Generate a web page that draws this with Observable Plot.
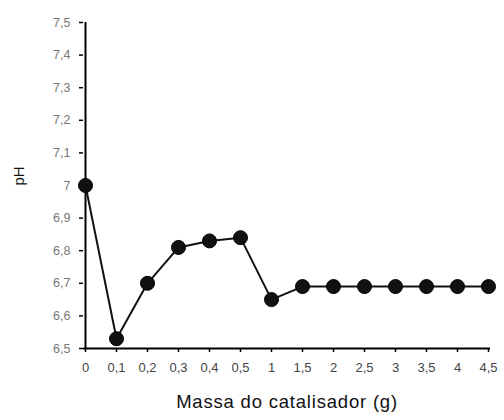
<!DOCTYPE html>
<html>
<head>
<meta charset="utf-8">
<script src="https://cdn.jsdelivr.net/npm/d3@7"></script>
<script src="https://cdn.jsdelivr.net/npm/@observablehq/plot@0.6"></script>
<style>
  html, body { margin: 0; padding: 0; background: #fff; }
  #chart { width: 504px; height: 420px; }
</style>
</head>
<body>
<div id="chart"></div>
<script>
const massLabels = ["0", "0,1", "0,2", "0,3", "0,4", "0,5", "1", "1,5", "2", "2,5", "3", "3,5", "4", "4,5"];
const phValues = [7.00, 6.53, 6.70, 6.81, 6.83, 6.84, 6.65, 6.69, 6.69, 6.69, 6.69, 6.69, 6.69, 6.69];
const yTicks = [6.5, 6.6, 6.7, 6.8, 6.9, 7.0, 7.1, 7.2, 7.3, 7.4, 7.5];

const data = massLabels.map((m, i) => ({mass: m, ph: phValues[i]}));
const fmt = v => (Math.round(v * 10) / 10).toString().replace(".", ",");

const chart = Plot.plot({
  width: 504,
  height: 420,
  marginLeft: 83,
  marginRight: 14,
  marginTop: 22,
  marginBottom: 72,
  style: {fontFamily: "'Liberation Sans', Arial, sans-serif", background: "#fff"},
  x: {type: "point", domain: massLabels, padding: 0, label: null},
  y: {domain: [6.5, 7.5], label: null},
  marks: [
    Plot.axisY({ticks: yTicks, tickFormat: fmt, tickSize: 4, tickPadding: 9, fontSize: 12.5, color: "#777", stroke: "#000", strokeWidth: 1.5}),
    Plot.axisX({tickSize: 4, tickPadding: 10, fontSize: 13, color: "#444", stroke: "#000", strokeWidth: 1.5}),
    Plot.ruleY([6.5], {stroke: "#000", strokeWidth: 2}),
    Plot.ruleX([massLabels[0]], {stroke: "#000", strokeWidth: 2}),
    Plot.line(data, {x: "mass", y: "ph", stroke: "#111", strokeWidth: 2}),
    Plot.dot(data, {x: "mass", y: "ph", r: 7, fill: "#111", stroke: "#000", strokeWidth: 1}),
    Plot.text(["pH"], {frameAnchor: "left", dx: -64, rotate: -90, fontSize: 15, fill: "#111"}),
    Plot.text(["Massa do catalisador (g)"], {frameAnchor: "bottom", dy: 59, fontSize: 18.5, fill: "#111"})
  ]
});
d3.select(chart).selectAll("text").filter(function() { return this.textContent === "Massa do catalisador (g)"; })
  .style("letter-spacing", "0.8px");
document.getElementById("chart").appendChild(chart);
</script>
</body>
</html>
